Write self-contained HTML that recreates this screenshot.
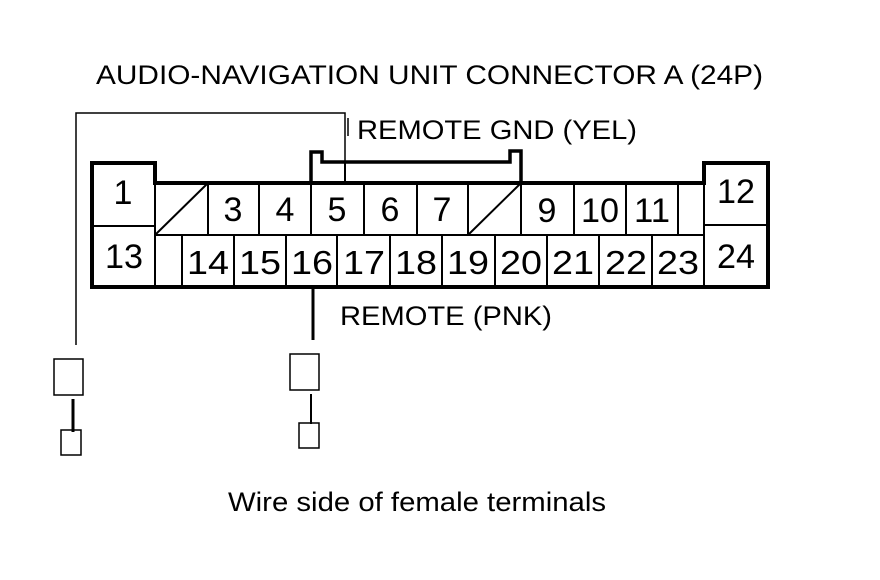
<!DOCTYPE html>
<html><head><style>html,body{margin:0;padding:0;background:#fff}svg{display:block}</style></head>
<body>
<svg width="880" height="580" viewBox="0 0 880 580" xmlns="http://www.w3.org/2000/svg" font-family="Liberation Sans, sans-serif" fill="none" stroke="#000">
<g fill="#000" stroke="none">
<text x="96" y="84" font-size="27" textLength="667" lengthAdjust="spacingAndGlyphs">AUDIO-NAVIGATION UNIT CONNECTOR A (24P)</text>
<text x="357" y="139" font-size="27" textLength="280" lengthAdjust="spacingAndGlyphs">REMOTE GND (YEL)</text>
<text x="340" y="325" font-size="27" textLength="212" lengthAdjust="spacingAndGlyphs">REMOTE (PNK)</text>
<text x="228" y="511" font-size="27" textLength="378" lengthAdjust="spacingAndGlyphs">Wire side of female terminals</text>
</g>
<path d="M92 287 V163 H155 V183 H704 V163 H768 V287 Z" stroke-width="4"/>
<path d="M311 183 V152 H322 V162 H510 V151 H521 V183" stroke-width="3.5"/>
<g stroke-width="2">
<line x1="92" y1="226" x2="155" y2="226"/>
<line x1="704" y1="225" x2="768" y2="225"/>
<line x1="155" y1="235" x2="704" y2="235"/>
<line x1="155" y1="183" x2="155" y2="287"/>
<line x1="704" y1="183" x2="704" y2="287"/>
<line x1="208" y1="183" x2="208" y2="235"/><line x1="259" y1="183" x2="259" y2="235"/>
<line x1="311" y1="183" x2="311" y2="235"/><line x1="364" y1="183" x2="364" y2="235"/>
<line x1="417" y1="183" x2="417" y2="235"/><line x1="468" y1="183" x2="468" y2="235"/>
<line x1="521" y1="183" x2="521" y2="235"/><line x1="574" y1="183" x2="574" y2="235"/>
<line x1="626" y1="183" x2="626" y2="235"/><line x1="678" y1="183" x2="678" y2="235"/>
<line x1="155" y1="235" x2="208" y2="183"/><line x1="468" y1="235" x2="521" y2="183"/>
<line x1="182" y1="235" x2="182" y2="287"/><line x1="234" y1="235" x2="234" y2="287"/>
<line x1="286" y1="235" x2="286" y2="287"/><line x1="337" y1="235" x2="337" y2="287"/>
<line x1="390" y1="235" x2="390" y2="287"/><line x1="442" y1="235" x2="442" y2="287"/>
<line x1="495" y1="235" x2="495" y2="287"/><line x1="547" y1="235" x2="547" y2="287"/>
<line x1="599" y1="235" x2="599" y2="287"/><line x1="652" y1="235" x2="652" y2="287"/>
<line x1="345" y1="162" x2="345" y2="183"/>
</g>
<g fill="#000" stroke="none" font-size="34" text-anchor="middle">
<text x="123" y="204">1</text><text x="124" y="268" textLength="38" lengthAdjust="spacingAndGlyphs">13</text>
<text x="736" y="203" textLength="38" lengthAdjust="spacingAndGlyphs">12</text><text x="736" y="268" textLength="38" lengthAdjust="spacingAndGlyphs">24</text>
<text x="233" y="221">3</text><text x="285" y="221">4</text><text x="337" y="221">5</text>
<text x="390" y="221">6</text><text x="442" y="221">7</text><text x="547" y="222">9</text>
<text x="600" y="222" textLength="38" lengthAdjust="spacingAndGlyphs">10</text><text x="652" y="222" textLength="36" lengthAdjust="spacingAndGlyphs">11</text>
<g font-size="33">
<text x="208" y="274" textLength="42" lengthAdjust="spacingAndGlyphs">14</text><text x="260" y="274" textLength="42" lengthAdjust="spacingAndGlyphs">15</text><text x="312" y="274" textLength="42" lengthAdjust="spacingAndGlyphs">16</text>
<text x="364" y="274" textLength="42" lengthAdjust="spacingAndGlyphs">17</text><text x="416" y="274" textLength="42" lengthAdjust="spacingAndGlyphs">18</text><text x="468" y="274" textLength="42" lengthAdjust="spacingAndGlyphs">19</text>
<text x="521" y="274" textLength="42" lengthAdjust="spacingAndGlyphs">20</text><text x="573" y="274" textLength="42" lengthAdjust="spacingAndGlyphs">21</text><text x="626" y="274" textLength="42" lengthAdjust="spacingAndGlyphs">22</text>
<text x="678" y="274" textLength="42" lengthAdjust="spacingAndGlyphs">23</text>
</g>
</g>
<path d="M345 162 V113 H76 V345" stroke-width="1.5"/>
<line x1="348" y1="118" x2="348" y2="136" stroke-width="1.5"/>
<line x1="313" y1="288" x2="313" y2="340" stroke-width="3"/>
<rect x="54" y="359" width="29" height="36" stroke-width="1.5"/>
<line x1="73" y1="399" x2="73" y2="432" stroke-width="3"/>
<rect x="61" y="430" width="20" height="25" stroke-width="1.5"/>
<rect x="290" y="354" width="29" height="36" stroke-width="1.5"/>
<line x1="311" y1="394" x2="311" y2="424" stroke-width="2"/>
<rect x="299" y="423" width="20" height="25" stroke-width="1.5"/>
</svg>
</body></html>
